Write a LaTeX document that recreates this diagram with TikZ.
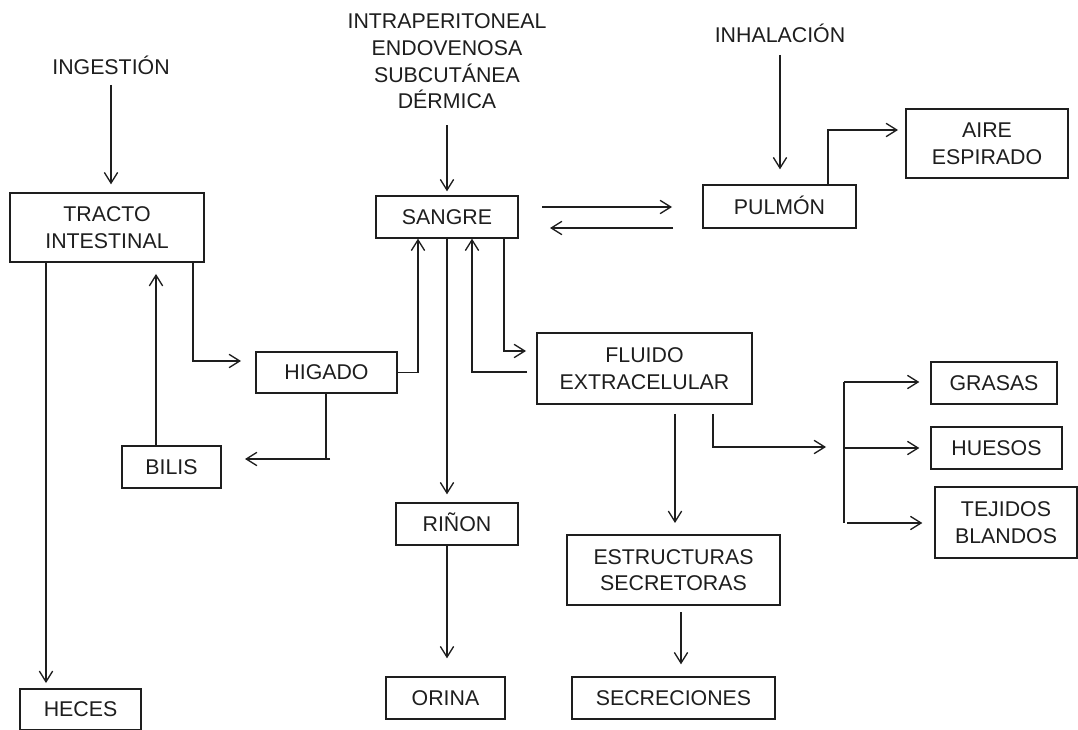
\documentclass[tikz,border=0pt]{standalone}
\usepackage{fontspec}
\setmainfont{Liberation Sans}
\usetikzlibrary{arrows.meta}
\definecolor{ink}{RGB}{30,30,30}
\begin{document}
\begin{tikzpicture}[x=0.75pt,y=-0.75pt,
  box/.style={draw=ink, line width=1pt, inner sep=0pt, align=center, font=\fontsize{16}{20}\selectfont, text=ink},
  wh/.style n args={2}{minimum width=#1*0.75pt, minimum height=#2*0.75pt},
  acc/.style={text height=11.5pt, text depth=0pt},
  lbl/.style={inner sep=0pt, align=center, font=\fontsize{16}{20}\selectfont, text=ink},
  arr/.style={draw=ink, line width=1pt, -{Straight Barb[length=8pt,width=10pt]}},
  ln/.style={draw=ink, line width=1pt}]
\useasboundingbox (0,0) rectangle (1078,730);
\fill[white] (0,0) rectangle (1078,730);

% boxes
\node[box, wh={194}{69}] (tracto) at (107,227.5) {TRACTO\\INTESTINAL};
\node[box, wh={142}{42}] (sangre) at (447,217) {SANGRE};
\node[box, wh={141}{41}] (higado) at (326.5,372.5) {HIGADO};
\node[box, wh={99}{42}] (bilis) at (171.5,467) {BILIS};
\node[box, wh={121}{41}] (heces) at (80.5,709.5) {HECES};
\node[box, acc, wh={122}{42}] (rinon) at (457,524) {RIÑON};
\node[box, wh={119}{42}] (orina) at (445.5,698) {ORINA};
\node[box, wh={215}{71}] (fluido) at (644.5,368.5) {FLUIDO\\EXTRACELULAR};
\node[box, acc, wh={153}{43}] (pulmon) at (779.5,206.5) {PULMÓN};
\node[box, wh={162}{69}] (aire) at (987,143.5) {AIRE\\ESPIRADO};
\node[box, wh={126}{42}] (grasas) at (994,383) {GRASAS};
\node[box, wh={131}{42}] (huesos) at (996.5,448) {HUESOS};
\node[box, wh={142}{71}] (tejidos) at (1006,522.5) {TEJIDOS\\BLANDOS};
\node[box, wh={213}{70}] (estr) at (673.5,570) {ESTRUCTURAS\\SECRETORAS};
\node[box, wh={203}{42}] (secr) at (673.5,698) {SECRECIONES};

% free labels
\node[lbl, acc] (ingestion) at (111,67) {INGESTIÓN};
\node[lbl] (vias) at (447,61.5) {INTRAPERITONEAL\\ENDOVENOSA\\SUBCUTÁNEA\\DÉRMICA};
\node[lbl, acc] (inhal) at (780,35) {INHALACIÓN};

% helper coordinates
\coordinate (p1) at (193,361); \coordinate (p1e) at (241,361);
\coordinate (hx) at (46,683);
\coordinate (bx) at (156,274);
\coordinate (hv) at (326,459);
\coordinate (hb) at (330,459); \coordinate (hbe) at (245,459);
\coordinate (hs) at (418,372.5);
\coordinate (pa) at (828,130); \coordinate (pae) at (898,130);
\coordinate (sp1) at (542,207); \coordinate (sp2) at (672,207);
\coordinate (ps1) at (673,228); \coordinate (ps2) at (550,228);
\coordinate (sf) at (504,351); \coordinate (sfe) at (526,351);
\coordinate (fs) at (527,372); \coordinate (fsx) at (472,372);
\coordinate (fe1) at (675,414); \coordinate (fe2) at (675,523);
\coordinate (fb1) at (713,414); \coordinate (fb2) at (826,447);
\coordinate (br1) at (844,382); \coordinate (br2) at (844,523);
\coordinate (br3) at (844,448); \coordinate (br4) at (847,523);
\coordinate (es) at (681,612);

% connectors
\draw[arr, shorten <=7.5pt, shorten >=6pt] (ingestion.south) -- (ingestion.south |- tracto.north);
\draw[arr, shorten <=12pt, shorten >=3pt] (vias.south) -- (sangre.north);
\draw[arr, shorten <=9pt, shorten >=11.25pt] (inhal.south) -- (inhal.south |- pulmon.north);

\draw[arr] (tracto.south -| p1) |- (p1e);
\draw[arr] (tracto.south -| hx) -- (hx);
\draw[arr] (bilis.north -| bx) -- (bx);
\draw[ln] (higado.south -| hv) -- (hv);
\draw[arr] (hb) -- (hbe);
\draw[arr] (higado.east) -| (sangre.south -| hs);

\draw[arr, shorten >=6pt] (sangre.south) -- (sangre.south |- rinon.north);
\draw[arr, shorten >=13.5pt] (rinon.south -| sangre.south) -- (orina.north -| sangre.south);

\draw[arr] (sp1) -- (sp2);
\draw[arr] (ps1) -- (ps2);
\draw[arr] (pulmon.north -| pa) |- (pae);

\draw[arr] (sangre.south -| sf) |- (sfe);
\draw[arr] (fs) -| (sangre.south -| fsx);

\draw[arr] (fe1) -- (fe2);
\draw[arr] (fb1) |- (fb2);
\draw[ln] (br1) -- (br2);
\draw[arr, shorten >=8.25pt] (br1) -- (br1 -| grasas.west);
\draw[arr, shorten >=8.25pt] (br3) -- (br3 -| huesos.west);
\draw[arr, shorten >=9pt] (br4) -- (br4 -| tejidos.west);
\draw[arr, shorten >=9pt] (es) -- (es |- secr.north);
\end{tikzpicture}
\end{document}
